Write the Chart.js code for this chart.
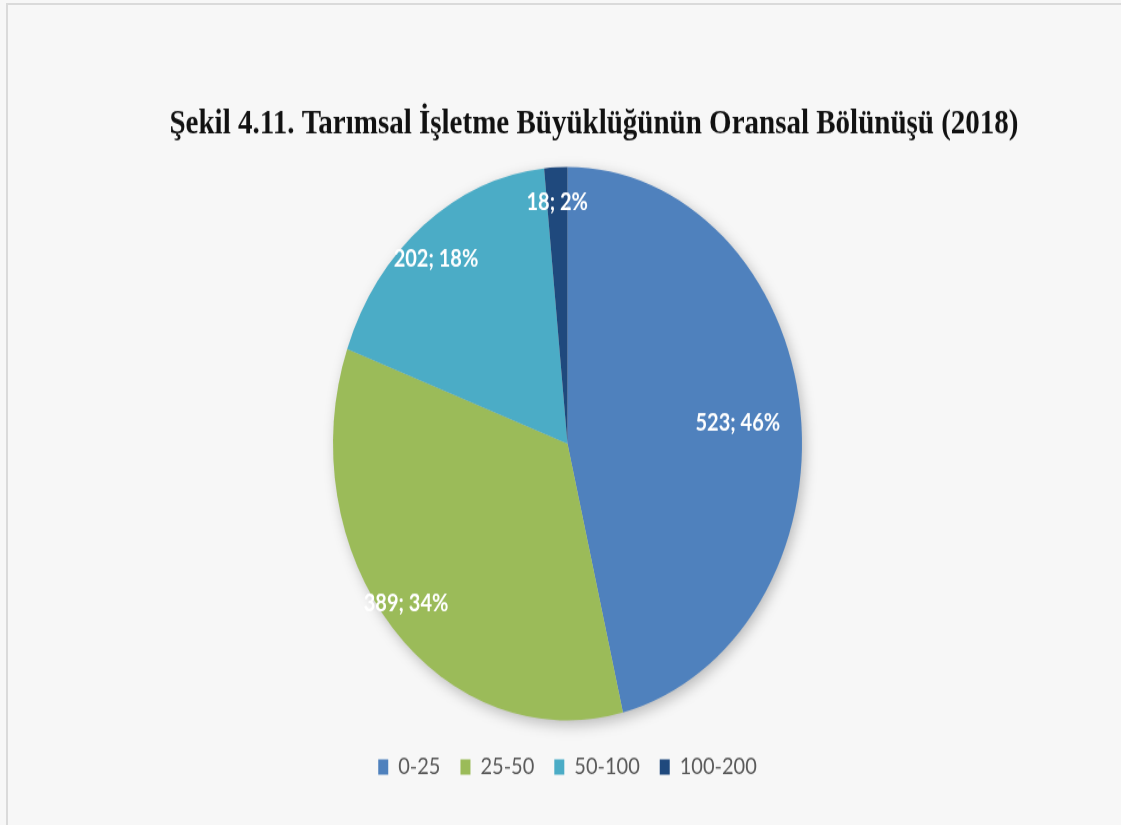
<!DOCTYPE html>
<html>
<head>
<meta charset="utf-8">
<script src="https://cdn.jsdelivr.net/npm/chart.js@4.4.0/dist/chart.umd.min.js"></script>
<style>
  html, body { margin: 0; padding: 0; background: #f7f7f7; overflow: hidden; width: 1121px; height: 825px; }
  #wrap { position: absolute; left: 0; top: 0; width: 1121px; height: 825px; overflow: hidden; }
  #frame { position: absolute; left: 6px; top: 3px; width: 1113px; height: 820px;
           border-left: 2px solid #dadada; border-top: 2px solid #dadada; }
  /* the figure is drawn at normal proportions, then stretched vertically */
  #pie { position: absolute; left: 0; top: 0; transform-origin: 0 0; transform: scaleY(1.18); }
</style>
</head>
<body>
<div id="wrap">
  <div id="frame"></div>
  <canvas id="pie" width="1121" height="699"></canvas>
</div>
<script>
// işletme büyüklüğü grupları ve işletme sayıları (2018)
const categories = ['0-25', '25-50', '50-100', '100-200'];
const counts = [523, 389, 202, 18];
const colors = ['#4f81bd', '#9bbb59', '#4bacc6', '#1f497d'];
const titleText = 'Şekil 4.11. Tarımsal İşletme Büyüklüğünün Oransal Bölünüşü (2018)';

// soft shadow under the whole pie
const pieShadow = {
  id: 'pieShadow',
  beforeDatasetsDraw(chart) {
    const arc = chart.getDatasetMeta(0).data[0];
    if (!arc) return;
    const ctx = chart.ctx;
    ctx.save();
    ctx.shadowColor = 'rgba(0,0,0,0.28)';
    ctx.shadowBlur = 14;
    ctx.shadowOffsetX = 3;
    ctx.shadowOffsetY = 4;
    ctx.fillStyle = '#cccccc';
    ctx.beginPath();
    ctx.arc(arc.x, arc.y, arc.outerRadius - 1, 0, Math.PI * 2);
    ctx.fill();
    ctx.restore();
  }
};

// "value; percent" labels inside the slices
const sliceLabels = {
  id: 'sliceLabels',
  afterDatasetsDraw(chart, args, opts) {
    const ctx = chart.ctx;
    const data = chart.data.datasets[0].data;
    const total = data.reduce((a, b) => a + b, 0);
    ctx.save();
    ctx.font = opts.font;
    ctx.fillStyle = opts.color;
    ctx.textAlign = 'center';
    ctx.textBaseline = 'middle';
    chart.getDatasetMeta(0).data.forEach((arc, i) => {
      const mid = (arc.startAngle + arc.endAngle) / 2 + (opts.shift[i] || 0);
      const r = arc.outerRadius * opts.radius[i];
      const x = arc.x + Math.cos(mid) * r;
      const y = arc.y + Math.sin(mid) * r;
      ctx.fillText(data[i] + '; ' + Math.round(data[i] / total * 100) + '%', x, y);
    });
    ctx.restore();
  }
};

// title drawn off-centre, above the pie
const figureTitle = {
  id: 'figureTitle',
  afterDraw(chart, args, opts) {
    const ctx = chart.ctx;
    ctx.save();
    ctx.font = opts.font;
    ctx.fillStyle = opts.color;
    ctx.textAlign = 'center';
    ctx.textBaseline = 'middle';
    ctx.fillText(opts.text, opts.x, opts.y);
    ctx.restore();
  }
};

new Chart(document.getElementById('pie'), {
  type: 'pie',
  data: {
    labels: categories,
    datasets: [{
      data: counts,
      backgroundColor: colors,
      borderWidth: 0,
      radius: 234.5
    }]
  },
  options: {
    responsive: false,
    animation: false,
    devicePixelRatio: 1,
    layout: { padding: { left: 14, right: 0, top: 132, bottom: 29 } },
    plugins: {
      title: { display: false },
      tooltip: { enabled: false },
      legend: {
        position: 'bottom',
        labels: {
          boxWidth: 10,
          boxHeight: 13,
          padding: 20,
          color: '#595959',
          font: { family: 'Lato', size: 20 }
        }
      },
      sliceLabels: {
        font: 'bold 20px Lato',
        color: '#ffffff',
        radius: [0.73, 0.9, 0.87, 0.875],
        shift: [0.02, 0.03, -0.04, 0]
      },
      figureTitle: {
        text: titleText,
        font: 'bold 29px "Liberation Serif"',
        color: '#111111',
        x: 594,
        y: 106
      }
    }
  },
  plugins: [pieShadow, sliceLabels, figureTitle]
});
</script>
</body>
</html>
